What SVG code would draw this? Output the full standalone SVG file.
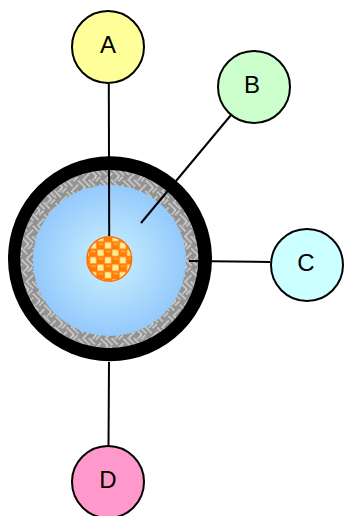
<svg xmlns="http://www.w3.org/2000/svg" width="344" height="516" viewBox="0 0 344 516">
<style>
.n{stroke:#000;stroke-width:2}
.c{fill:none;stroke:#000;stroke-width:2}
text{font-family:"Liberation Sans",Arial,sans-serif;font-size:24px;fill:#000;text-anchor:middle}
</style>
<defs>
<radialGradient id="blue" cx="0.5" cy="0.5" r="0.5">
<stop offset="0" stop-color="#ccf2ff"/>
<stop offset="1" stop-color="#94c9fb"/>
</radialGradient>
<pattern id="weave" width="16" height="16" patternUnits="userSpaceOnUse" patternTransform="rotate(45 110 259)">
<rect width="16" height="16" fill="#929292"/>
<path d="M0 2H10V8M3 5V14H13M7 10H16M13 0V6" fill="none" stroke="#ececec" stroke-width="1.500" stroke-dasharray="1.500 .6"/>
</pattern>
<pattern id="check" x="104" y="241.500" width="14.800" height="14.800" patternUnits="userSpaceOnUse">
<rect width="14.800" height="14.800" fill="#ff7a08"/>
<rect x="0.500" y="0.500" width="7" height="7" fill="#ffa63c"/>
<rect x="7.900" y="7.900" width="7" height="7" fill="#ffa63c"/>
<rect x="1.200" y="1.200" width="5.600" height="5.600" fill="#ffee99"/>
<rect x="8.600" y="8.600" width="5.600" height="5.600" fill="#ffee99"/>
<rect x="9.500" y="1.500" width="4.500" height="2" fill="#ffa63c"/>
<rect x="2" y="9" width="4.500" height="2" fill="#ffa63c"/>
</pattern>
</defs>
<g id="body">
<ellipse cx="110" cy="258.700" rx="102" ry="102.500" fill="#000"/>
<circle cx="109.300" cy="259" r="89" fill="url(#weave)"/>
<ellipse cx="109.500" cy="260.500" rx="76.500" ry="75.500" fill="url(#blue)"/>
<circle cx="109.300" cy="259" r="22.300" fill="url(#check)" stroke="#ff6f00" stroke-width="1.500"/>
</g>
<g id="connectors">
<path class="c" d="M108.800 84L109.200 236"/>
<path class="c" d="M231 115L141 223"/>
<path class="c" d="M270 262L189 261"/>
<path class="c" d="M109 362L108.500 446"/>
</g>
<g id="A"><circle class="n" cx="108" cy="47" r="36" fill="#ffff99"/><text x="108" y="53">A</text></g>
<g id="B"><circle class="n" cx="254" cy="87" r="36" fill="#ccffcc"/><text x="252" y="93">B</text></g>
<g id="C"><circle class="n" cx="307" cy="265" r="36" fill="#ccffff"/><text x="306" y="271">C</text></g>
<g id="D"><circle class="n" cx="108" cy="482" r="36" fill="#ff99cc"/><text x="108" y="488">D</text></g>
</svg>
